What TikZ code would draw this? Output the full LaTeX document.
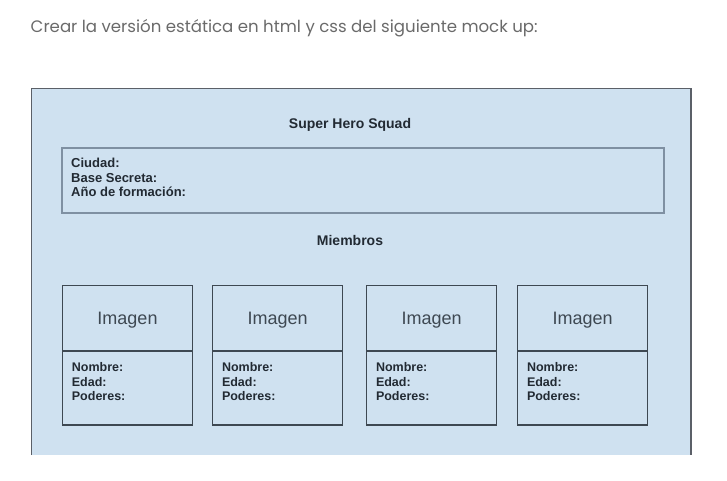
\documentclass[tikz,border=0pt]{standalone}
\usepackage{fontspec}
\setmainfont{Liberation Sans}
\newfontfamily\titlefont{Poppins}
\definecolor{panelfill}{HTML}{CFE1F0}
\definecolor{outerline}{HTML}{5B6068}
\definecolor{infoline}{HTML}{7F90A2}
\definecolor{boxline}{HTML}{3E4852}
\definecolor{inktext}{HTML}{222A33}
\definecolor{titlegray}{HTML}{6A6A6A}
\tikzset{
  labeltext/.style={inner sep=0pt, anchor=base west, text=inktext,
    font=\fontsize{12.5}{14.5}\selectfont\bfseries},
  infotext/.style={labeltext, font=\fontsize{13}{14.5}\selectfont\bfseries},
  heading/.style={inner sep=0pt, anchor=base, text=inktext,
    font=\fontsize{14}{16}\selectfont\bfseries},
  imgbox/.style={draw=boxline, line width=1.2pt, minimum width=129.6pt,
    minimum height=64.6pt, inner sep=0pt, text=boxline,
    font=\fontsize{18}{20}\selectfont, text height=12.9pt, text depth=0pt},
  infobox/.style={draw=boxline, line width=1.2pt, minimum width=129.6pt,
    minimum height=73.4pt, inner sep=0pt, anchor=north},
}
\begin{document}
\begin{tikzpicture}[x=1pt,y=-1pt]
\useasboundingbox (0,0) rectangle (727,480);
% page title
\node[inner sep=0pt, anchor=base west, text=titlegray,
  font=\fontsize{16.6}{19}\selectfont\titlefont] (title) at (30.5,32.5)
  {Crear la versión estática en html y css del siguiente mock up:};
% outer panel
\fill[panelfill] (31.5,88.3) rectangle (691,455);
\draw[outerline, line width=1.2pt] (31.5,455) -- (31.5,88.3) -- (691,88.3) -- (691,455);
% heading
\node[heading] (squad) at (350,128) {Super Hero Squad};
% info box
\node[draw=infoline, line width=1.6pt, minimum width=601.5pt, minimum height=65pt,
  inner sep=0pt] (info) at (363,180.2) {};
\node[infotext] (ciudad) at (71,167.7) {Ciudad:};
\node[infotext] (base) at (71,182.2) {Base Secreta:};
\node[infotext] (anio) at (71,196.7) {Año de formación:};
% members heading
\node[heading] (miembros) at (350,245.7) {Miembros};
% member cards
\foreach \i/\x in {1/62.7, 2/212.8, 3/366.8, 4/517.8}{
  \node[imgbox] (img\i) at (\x+64.8,318) {Imagen};
  \node[infobox] (card\i) at (img\i.south) {};
  \node[labeltext] (nombre\i) at (\x+9,371.7) {Nombre:};
  \node[labeltext] (edad\i) at (\x+9,386.2) {Edad:};
  \node[labeltext] (poder\i) at (\x+9,400.7) {Poderes:};
}
\end{tikzpicture}
\end{document}
